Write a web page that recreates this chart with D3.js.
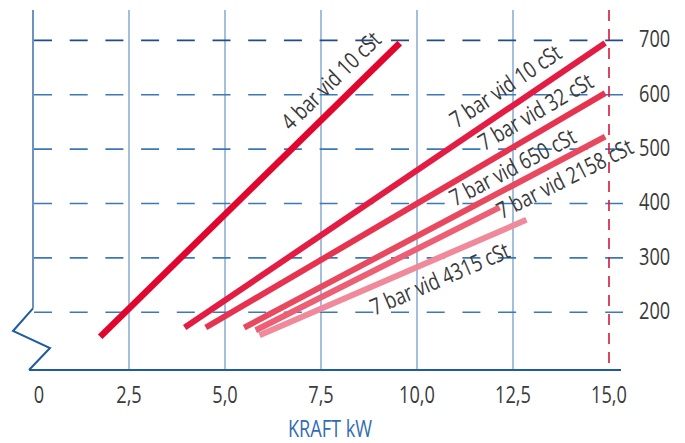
<!DOCTYPE html>
<html><head><meta charset="utf-8">
<script src="https://cdn.jsdelivr.net/npm/d3@7"></script>
<style>
html,body{margin:0;padding:0;background:#fff;}
svg{display:block;}
text{font-family:"Open Sans","Liberation Sans",sans-serif;}
</style></head>
<body><svg id="c" width="685" height="443"></svg>
<script>
// ---- data ----
const xTicks = [0, 2.5, 5, 7.5, 10, 12.5, 15];
const xTickLabels = ["0", "2,5", "5,0", "7,5", "10,0", "12,5", "15,0"];
const yTicks = [200, 300, 400, 500, 600, 700];
const seriesNames = ["4 bar vid 10 cSt", "7 bar vid 10 cSt", "7 bar vid 32 cSt", "7 bar vid 650 cSt", "7 bar vid 2158 cSt", "7 bar vid 4315 cSt"];
const seriesKraft = [[1.75, 9.55], [3.95, 14.9], [4.5, 14.9], [5.5, 14.9], [5.8, 12.15], [5.9, 12.85]];
const seriesValue = [[155, 695], [172, 695], [172, 603], [172, 523], [167, 393], [158, 370]];
const xTitle = "KRAFT kW";

// ---- styles / layout ----
const lineColors = ["#e1062e", "#e31c43", "#e6334f", "#e9495f", "#ec5f75", "#f08a9b"];
const lineWidths = [6.5, 6, 6, 6, 6, 6];
const labelT = [0.82, 0.79, 0.85, 0.765, 1.26, 0.646];
const labelD = [22, 21, 20, 17, -3, -19];
const FS = 23, SX = 0.79;

const svg = d3.select("#c");
const x = d3.scaleLinear().domain([0, 15]).range([33, 609]);
const y = d3.scaleLinear().domain([200, 700]).range([312.3, 40.35]);
const plotTop = 10, plotBase = 370;

function addText(g, str, tx, ty, ang, anchor, fill, baseline) {
  const t = g.append("text")
    .attr("transform", `translate(${tx},${ty}) rotate(${ang || 0}) scale(${SX},1)`)
    .attr("text-anchor", anchor).attr("font-size", FS).attr("fill", fill).text(str);
  if (baseline) t.attr("dominant-baseline", baseline);
  return t;
}

// vertical grid lines
svg.append("g").selectAll("line").data(xTicks.filter(d => d > 0 && d < 15)).join("line")
  .attr("x1", d => x(d)).attr("x2", d => x(d)).attr("y1", plotTop).attr("y2", plotBase)
  .attr("stroke", "#8eb0d3").attr("stroke-width", 1.6);

// horizontal dashed grid lines
svg.append("g").selectAll("line").data(yTicks).join("line")
  .attr("x1", 34).attr("x2", 623).attr("y1", d => y(d)).attr("y2", d => y(d))
  .attr("stroke", d => d === 700 ? "#1c4e8a" : "#3b78b8").attr("stroke-width", 1.6)
  .attr("stroke-dasharray", "18,17.7");

// red dashed line at 15
svg.append("line").attr("x1", x(15)).attr("x2", x(15)).attr("y1", plotTop).attr("y2", plotBase)
  .attr("stroke", "#d5173d").attr("stroke-width", 1.6).attr("stroke-dasharray", "11,8");

// left axis with break
svg.append("line").attr("x1", x(0)).attr("x2", x(0)).attr("y1", plotTop).attr("y2", y(200) - 4)
  .attr("stroke", "#6893c2").attr("stroke-width", 2);
const zz = [[x(0), y(200) - 4], [x(0) - 20, 331], [x(0) + 17, 348], [x(0) - 4, plotBase]];
svg.append("path").attr("d", d3.line()(zz)).attr("fill", "none")
  .attr("stroke", "#1f5c9e").attr("stroke-width", 2);
// bottom axis
svg.append("line").attr("x1", x(0) - 4).attr("x2", 621).attr("y1", plotBase).attr("y2", plotBase)
  .attr("stroke", "#1f5c9e").attr("stroke-width", 2);

// x tick labels
const gx = svg.append("g");
xTicks.forEach((d, i) => addText(gx, xTickLabels[i], x(d) + (i === 0 ? 6 : 0), 403, 0, "middle", "#3a3a3a"));
// y tick labels
const gy = svg.append("g");
yTicks.forEach(d => addText(gy, String(d), 639, y(d) - 2, 0, "start", "#3a3a3a", "central"));
// x title
addText(svg, xTitle, 330, 437, 0, "middle", "#2f6db3");

// series lines
const lineGen = d3.line().x(d => x(d[0])).y(d => y(d[1]));
seriesNames.forEach((name, i) => {
  const pts = seriesKraft[i].map((k, j) => [k, seriesValue[i][j]]);
  svg.append("path").attr("d", lineGen(pts)).attr("fill", "none")
    .attr("stroke", lineColors[i]).attr("stroke-width", lineWidths[i]).attr("stroke-linecap", "butt");
});

// labels
const gl = svg.append("g");
seriesNames.forEach((name, i) => {
  const x0 = x(seriesKraft[i][0]), y0 = y(seriesValue[i][0]);
  const x1 = x(seriesKraft[i][1]), y1 = y(seriesValue[i][1]);
  const dx = x1 - x0, dy = y1 - y0, len = Math.hypot(dx, dy);
  const ux = dx / len, uy = dy / len;
  const nx = uy, ny = -ux; // upward normal
  const t = labelT[i], d = labelD[i];
  const cx = x0 + dx * t + nx * d, cy = y0 + dy * t + ny * d;
  const ang = Math.atan2(dy, dx) * 180 / Math.PI;
  addText(gl, name, cx, cy, ang, "middle", "#3a3a3a", "central");
});
</script></body></html>
